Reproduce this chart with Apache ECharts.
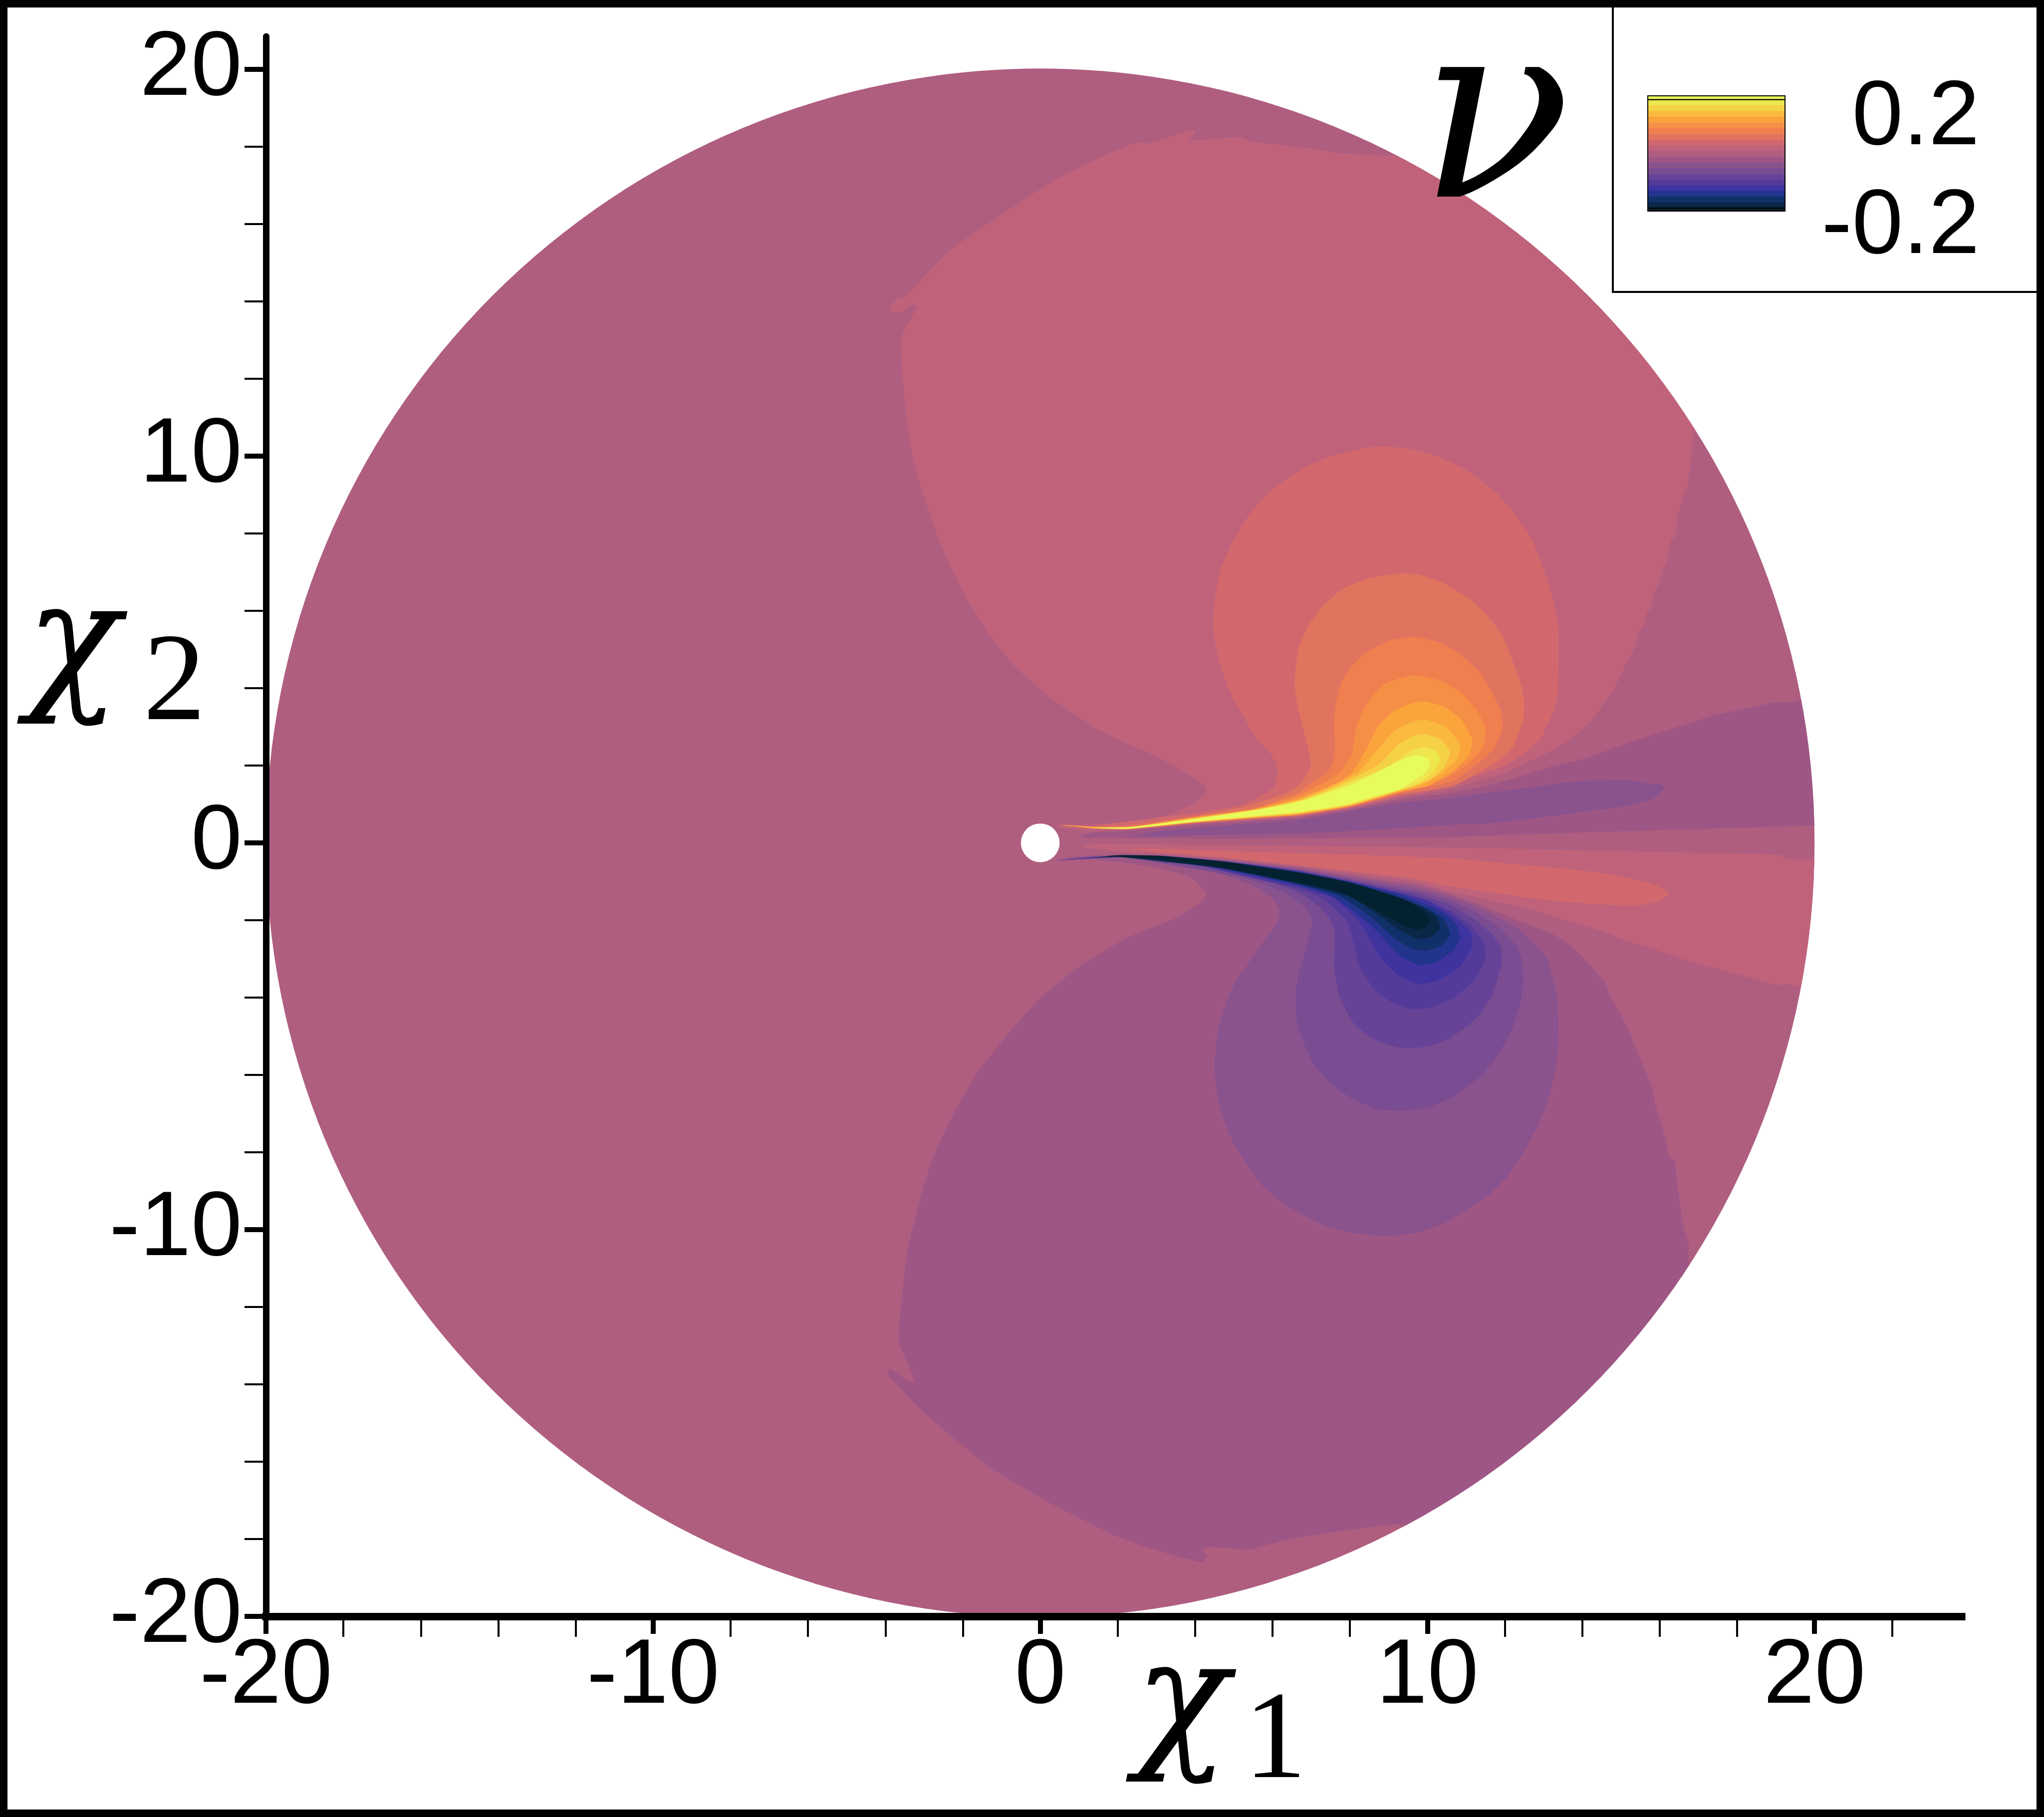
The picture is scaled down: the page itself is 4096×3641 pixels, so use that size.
<!DOCTYPE html>
<html>
<head>
<meta charset="utf-8">
<style>html,body{margin:0;padding:0;background:#fff}#chart{width:4096px;height:3641px}</style>
<script src="https://cdn.jsdelivr.net/npm/echarts@6/dist/echarts.min.js"></script>
</head>
<body>
<div id="chart"></div>
<script>
/* Filled contours of nu on the chi1/chi2 disc, levels painted outer to inner */

// colour of every contour level, 0 = top of the scale (0.2), 20 = bottom (-0.2)
const levelColors = ['#E8FB5D', '#EEE64D', '#F5D245', '#FAB93F', '#FCA43C', '#F68F46', '#F07F4F',
  '#E1745F', '#D2686D', '#C0637A', '#AF5E80', '#9E5785', '#8B538D', '#7A4C92', '#664396',
  '#543B9A', '#3F33A0', '#22348C', '#0F3068', '#0A2747', '#03212F'];

const majorTicks = [-20, -10, 0, 10, 20];
const minorTicksX = [-18, -16, -14, -12, -8, -6, -4, -2, 2, 4, 6, 8, 12, 14, 16, 18, 22];
const minorTicksY = [-18, -16, -14, -12, -8, -6, -4, -2, 2, 4, 6, 8, 12, 14, 16, 18];

// domain: [chi1, chi2, radius]
const domainDisc = [0, 0, 20];
const innerHole = [0, 0, 0.5];

// wedge and tongue of negative values above the axis
const wedge11 = [[1.04,0.18],[1.45,0.28],[2.23,0.31],[3.88,0.46],[5.53,0.57],[6.69,0.65],[7.98,0.86],[9.27,1.12],[10.56,1.29],[11.42,1.44],[12.27,1.68],[13.2,1.97],[14.12,2.2],[15.04,2.53],[15.63,2.73],[16.16,2.9],[16.88,3.13],[17.28,3.27],[18.07,3.45],[18.6,3.55],[19,3.64],[19.45,3.64],[19.68,3.72],[21,3.8],[21,0.42],[20.03,0.44],[17.15,0.36],[13.85,0.26],[11.75,0.19],[10.56,0.15],[7.18,0.12],[3.88,0.11],[1.08,0.13]];
const tongue12 = [[2.36,0.17],[3.06,0.3],[3.88,0.38],[5.53,0.51],[6.69,0.6],[7.98,0.82],[9.27,1.03],[10.56,1.16],[11.42,1.28],[12.8,1.45],[13.72,1.58],[14.64,1.62],[15.24,1.62],[15.83,1.51],[16.03,1.54],[16.16,1.36],[16.06,1.35],[15.86,1.15],[15.17,0.95],[14.38,0.85],[13.46,0.72],[11.75,0.52],[10.56,0.46],[8.84,0.35],[6.69,0.24],[5.53,0.22]];

// band and tongue of positive values below the axis
const band9 = [[1.04,-0.09],[1.49,-0.03],[5.53,-0.07],[10.56,-0.12],[12.54,-0.16],[15.17,-0.22],[17.15,-0.26],[19.12,-0.31],[19.26,-0.42],[20.03,-0.43],[21,-0.45],[21,-3.9],[19.68,-3.76],[19.39,-3.66],[18.99,-3.67],[18.4,-3.5],[18,-3.4],[17.54,-3.27],[16.88,-3.1],[15.83,-2.74],[15.17,-2.54],[14.51,-2.28],[13.85,-2.08],[13.2,-1.88],[12.54,-1.68],[11.88,-1.55],[11.22,-1.39],[10.56,-1.26],[9.7,-1.01],[7.98,-0.775],[6.69,-0.61],[4.7,-0.4],[3.06,-0.28],[2.23,-0.24],[1.41,-0.15]];
const tongue8 = [[2.36,-0.15],[5.53,-0.235],[8.82,-0.33],[10.56,-0.4],[12.8,-0.6],[13.85,-0.7],[14.64,-0.8],[15.43,-0.96],[15.83,-1.06],[16.23,-1.29],[16.03,-1.49],[15.57,-1.6],[14.64,-1.6],[13.2,-1.49],[11.88,-1.32],[10.56,-1.12],[9.7,-0.925],[8.41,-0.775],[6.69,-0.58],[4.7,-0.375],[3.06,-0.235]];

// positive lobe, outer to inner
const warm9 = [[0.42,0.46],[1.08,0.47],[2.23,0.51],[3.39,0.75],[4.05,1.08],[4.29,1.33],[4.22,1.5],[3.88,1.74],[3.06,2.2],[2.23,2.57],[1.41,2.98],[0.29,3.73],[-0.7,4.6],[-1.39,5.49],[-1.88,6.28],[-2.38,7.27],[-2.77,8.26],[-3.07,9.14],[-3.31,10.03],[-3.46,11.02],[-3.56,12.11],[-3.59,12.99],[-3.51,13.29],[-3.17,13.86],[-3.31,13.91],[-3.61,13.73],[-3.92,13.76],[-3.68,14.08],[-3.51,14.1],[-2.97,14.67],[-2.28,15.36],[-0.99,16.25],[0.39,17.14],[1.57,17.73],[2.51,18.11],[2.76,18.08],[3.89,18.42],[4.02,18.37],[3.82,18.16],[5.18,18.25],[5.42,18.13],[6.9,17.96],[7.79,17.83],[9.12,17.78],[11,18.5],[15,16],[20,12],[16.93,10.65],[16.86,10.48],[16.78,9.66],[16.71,9.19],[16.63,9.04],[16.47,8.5],[16.39,7.92],[16.28,7.79],[16.17,7.21],[16.09,7.1],[15.98,6.7],[15.85,6.44],[15.77,6.03],[15.66,5.94],[15.57,5.58],[15.46,5.47],[15.38,5.1],[15.1,4.57],[14.78,3.91],[14.25,3.19],[13.99,2.93],[13.52,2.56],[13.2,2.37],[12.54,2.07],[12,1.8],[11.22,1.58],[10.56,1.38],[9.27,1.17],[7.98,0.88],[6.69,0.68],[5.53,0.595],[3.88,0.48],[2.23,0.33],[1.41,0.3],[0.42,0.42]];
const warm8 = [[1.41,0.44],[2.23,0.55],[3.88,0.75],[5.2,0.98],[5.55,1.15],[6.01,1.41],[6.13,1.87],[5.98,2.27],[5.62,2.66],[5.16,3.42],[4.86,3.98],[4.6,4.77],[4.49,5.36],[4.47,5.82],[4.53,6.42],[4.66,7.07],[4.96,7.77],[5.22,8.23],[5.55,8.69],[6.01,9.15],[6.41,9.44],[6.87,9.74],[7.53,10],[8.05,10.13],[8.71,10.25],[9.57,10.19],[10.23,10],[10.88,9.71],[11.28,9.44],[11.81,9.02],[12.27,8.49],[12.66,7.93],[12.93,7.27],[13.16,6.61],[13.29,6.09],[13.39,5.49],[13.39,4.51],[13.35,3.72],[13.25,3.39],[12.92,2.7],[12.53,2.35],[12,2],[11.2,1.72],[10.56,1.48],[10.03,1.33],[9.27,1.21],[7.98,0.905],[6.69,0.705],[5.53,0.62],[3.88,0.5],[2.23,0.345]];
const warm7 = [[1.58,0.4],[2.23,0.45],[3.88,0.68],[5.2,0.92],[5.75,1.08],[6.34,1.28],[6.74,1.54],[6.99,2],[6.93,2.4],[6.8,2.93],[6.67,3.45],[6.57,4.04],[6.6,4.57],[6.7,5.1],[6.93,5.63],[7.33,6.15],[7.79,6.55],[8.51,6.84],[9.3,6.97],[9.77,6.94],[10.42,6.71],[11.02,6.35],[11.48,5.95],[11.94,5.36],[12.2,4.7],[12.43,4.04],[12.5,3.58],[12.46,3.12],[12.2,2.47],[11.74,2.07],[10.69,1.48],[9.27,1.25],[7.98,0.92],[6.69,0.715],[5.53,0.63],[3.88,0.505],[2.23,0.35]];
const warm6 = [[0.5,0.47],[1.41,0.42],[2.4,0.43],[3.88,0.66],[5.53,0.89],[6.69,1.31],[7,1.54],[7.4,1.81],[7.53,2],[7.61,2.4],[7.59,3.12],[7.63,3.58],[7.79,4.18],[7.99,4.5],[8.38,4.9],[9.04,5.23],[9.7,5.33],[10.36,5.16],[10.82,4.9],[11.35,4.41],[11.67,3.91],[11.9,3.39],[11.94,2.99],[11.74,2.47],[11.41,2.14],[10.69,1.61],[9.27,1.28],[7.98,0.93],[6.69,0.72],[5.53,0.635],[3.88,0.51],[2.23,0.355],[1.41,0.37]];
const warm5 = [[0.5,0.465],[1.41,0.41],[2.4,0.42],[3.88,0.65],[5.53,0.88],[6.69,1.23],[7.4,1.6],[7.72,1.81],[8.05,2.27],[8.15,2.93],[8.32,3.39],[8.65,3.88],[8.91,4.11],[9.37,4.28],[9.7,4.34],[10.36,4.18],[10.88,3.88],[11.28,3.42],[11.51,2.93],[11.44,2.47],[11.08,2.07],[10.55,1.71],[10.13,1.55],[9.27,1.3],[7.98,0.94],[6.69,0.73],[5.53,0.64],[3.88,0.515],[2.23,0.36],[1.41,0.375]];
const warm4 = [[0.55,0.46],[1.41,0.405],[2.4,0.415],[3.88,0.64],[5.53,0.87],[6.69,1.16],[7.66,1.54],[8.05,1.81],[8.45,2.47],[8.71,2.99],[9.11,3.39],[9.5,3.58],[9.9,3.66],[10.42,3.52],[10.88,3.19],[11.16,2.66],[11.08,2.27],[10.69,1.87],[10.03,1.48],[9.27,1.32],[7.98,0.95],[6.69,0.74],[5.53,0.65],[3.88,0.52],[2.23,0.36],[1.41,0.38]];
const warm3 = [[0.6,0.455],[1.41,0.4],[2.4,0.41],[3.88,0.63],[5.53,0.86],[6.69,1.12],[7.12,1.29],[8.19,1.81],[8.71,2.4],[9.11,2.86],[9.5,3.09],[9.93,3.19],[10.49,2.99],[10.85,2.53],[10.75,2.14],[10.29,1.74],[9.7,1.45],[9.27,1.335],[7.98,0.96],[6.69,0.75],[5.53,0.66],[3.88,0.525],[2.23,0.362],[1.41,0.385]];
const warm2 = [[0.7,0.45],[1.41,0.4],[2.4,0.405],[3.88,0.62],[5.53,0.85],[6.69,1.1],[7.55,1.42],[8.71,2],[9.24,2.53],[9.63,2.76],[9.96,2.81],[10.36,2.66],[10.59,2.33],[10.42,1.94],[10.03,1.61],[9.27,1.35],[7.98,0.97],[6.69,0.77],[5.53,0.67],[3.88,0.53],[2.23,0.363],[1.41,0.39]];
const warm1 = [[1,0.42],[1.41,0.398],[2.4,0.4],[3.88,0.61],[5.53,0.84],[6.69,1.08],[7.98,1.55],[9.04,2],[9.57,2.37],[9.9,2.47],[10.23,2.37],[10.33,2.14],[10.16,1.84],[9.77,1.54],[9.27,1.365],[7.98,0.99],[6.69,0.78],[5.53,0.68],[3.88,0.535],[2.23,0.364]];
const warm0 = [[1.25,0.38],[2.23,0.4],[3.88,0.6],[4.7,0.72],[5.53,0.84],[6.1,0.94],[6.69,1.06],[7.3,1.25],[7.98,1.48],[8.5,1.72],[9.17,2.07],[9.7,2.27],[10,2.2],[10.06,2],[9.9,1.77],[9.5,1.51],[9.27,1.375],[8.5,1.17],[7.98,1.01],[7.3,0.89],[6.69,0.8],[6.1,0.75],[5.53,0.695],[3.88,0.54],[2.23,0.365]];

// negative lobe, outer to inner
const cool11 = [[0.51,-0.4],[1.41,-0.44],[2.23,-0.52],[3.06,-0.65],[3.88,-0.89],[4.29,-1.31],[4.13,-1.55],[3.47,-1.96],[2.23,-2.46],[1,-3.2],[0,-4.01],[-0.8,-4.9],[-1.59,-5.89],[-2.28,-7.07],[-2.82,-8.26],[-3.16,-9.44],[-3.41,-10.43],[-3.56,-11.61],[-3.66,-12.9],[-3.46,-13.39],[-3.24,-13.93],[-3.46,-13.88],[-3.88,-13.59],[-3.95,-13.74],[-3.07,-14.67],[-2.38,-15.27],[-1.29,-16.16],[0.29,-17.09],[1.97,-17.93],[2.96,-18.28],[4.19,-18.6],[4.32,-18.45],[4.19,-18.28],[4.34,-18.21],[5.42,-18.26],[6.41,-18.01],[7.89,-17.78],[9.42,-17.64],[11,-19],[16,-16],[20,-12],[16.78,-10.88],[16.75,-10.38],[16.58,-9.74],[16.48,-8.95],[16.39,-8.21],[16.26,-8.11],[16.09,-7.42],[15.92,-6.88],[15.79,-6.28],[15.61,-5.84],[15.4,-5.35],[15.23,-4.9],[15.01,-4.46],[14.75,-4.01],[14.58,-3.6],[14.18,-3.13],[13.72,-2.67],[13.2,-2.34],[12.54,-2.08],[11.88,-1.82],[11.22,-1.55],[10.56,-1.32],[9.7,-1.08],[8.84,-0.97],[7.98,-0.84],[6.69,-0.637],[4.7,-0.43],[3.06,-0.32],[2.07,-0.3],[1.41,-0.32]];
const cool12 = [[2.23,-0.4],[3.06,-0.5],[4.7,-0.81],[5.53,-1.14],[6.02,-1.47],[6.18,-1.81],[6.08,-2.1],[5.68,-2.66],[5.35,-3.16],[5.06,-3.55],[4.8,-4.14],[4.6,-4.8],[4.53,-5.33],[4.5,-5.86],[4.56,-6.45],[4.7,-7.04],[5.03,-7.86],[5.42,-8.42],[5.75,-8.88],[6.34,-9.35],[6.87,-9.67],[7.46,-9.94],[8.05,-10.08],[8.98,-10.17],[9.77,-10.07],[10.42,-9.84],[11.02,-9.48],[11.54,-9.15],[12.07,-8.62],[12.47,-8.03],[12.86,-7.3],[13.12,-6.65],[13.29,-5.99],[13.35,-5.53],[13.39,-5.2],[13.37,-4.08],[13.25,-3.55],[13.09,-2.96],[12.66,-2.5],[12.34,-2.21],[11.75,-1.88],[11.22,-1.62],[10.56,-1.39],[9.7,-1.16],[8.41,-0.95],[6.69,-0.68],[4.7,-0.45],[3.06,-0.33]];
const cool13 = [[2.65,-0.44],[3.88,-0.65],[5.53,-0.98],[6.35,-1.31],[6.8,-1.64],[7,-1.91],[7.02,-2.1],[6.87,-2.7],[6.67,-3.42],[6.59,-4.01],[6.64,-4.67],[6.8,-5.16],[7.03,-5.66],[7.33,-6.05],[7.79,-6.45],[8.25,-6.71],[8.71,-6.88],[9.24,-6.93],[10.03,-6.84],[10.62,-6.58],[11.35,-6.05],[11.74,-5.59],[12.14,-4.93],[12.4,-4.14],[12.48,-3.62],[12.43,-2.96],[12.27,-2.63],[11.87,-2.2],[11.21,-1.77],[10.56,-1.48],[9.7,-1.24],[8.41,-1.01],[6.69,-0.7],[4.7,-0.465],[3.06,-0.34]];
const cool14 = [[2.65,-0.4],[3.88,-0.565],[5.53,-0.85],[6.69,-1.29],[7.2,-1.64],[7.49,-1.97],[7.61,-2.3],[7.59,-3.22],[7.72,-3.95],[8.05,-4.61],[8.58,-5.07],[9.11,-5.26],[9.5,-5.32],[10.03,-5.26],[10.56,-5.07],[11.02,-4.74],[11.35,-4.44],[11.67,-3.95],[11.91,-3.16],[11.91,-2.7],[11.67,-2.37],[11.21,-1.97],[10.56,-1.59],[9.7,-1.31],[8.41,-1.05],[6.69,-0.715],[4.7,-0.47],[3.06,-0.345]];
const cool15 = [[0.4,-0.46],[1.4,-0.36],[3.06,-0.33],[4.7,-0.475],[6.69,-0.73],[8.41,-1.1],[9.7,-1.38],[10.62,-1.77],[11.15,-2.17],[11.48,-2.63],[11.49,-3.03],[11.21,-3.55],[10.69,-4.01],[10.16,-4.24],[9.63,-4.31],[9.11,-4.14],[8.65,-3.82],[8.25,-3.22],[8.12,-2.7],[7.92,-2.04],[7.33,-1.46],[6.69,-1.205],[4.7,-0.73],[3.06,-0.365],[1.4,-0.4]];
const cool16 = [[3.3,-0.37],[4.7,-0.48],[6.69,-0.745],[7.98,-0.99],[9.27,-1.29],[10.04,-1.51],[10.69,-1.91],[11.12,-2.3],[11.15,-2.7],[10.82,-3.22],[10.29,-3.55],[9.77,-3.65],[9.24,-3.42],[8.78,-2.96],[8.45,-2.37],[8.19,-1.98],[7.55,-1.42],[6.69,-1.14],[4.7,-0.69]];
const cool17 = [[3,-0.35],[4.7,-0.48],[6.69,-0.753],[7.98,-1.01],[9.27,-1.33],[9.96,-1.59],[10.36,-1.77],[10.75,-2.1],[10.85,-2.47],[10.69,-2.76],[10.23,-3.09],[9.77,-3.16],[9.24,-2.89],[8.78,-2.37],[8.41,-2.02],[7.55,-1.38],[6.69,-1.1],[4.7,-0.67]];
const cool18 = [[2.5,-0.33],[4.7,-0.48],[6.69,-0.762],[7.98,-1.02],[9.06,-1.33],[10.03,-1.71],[10.42,-1.97],[10.59,-2.37],[10.36,-2.66],[9.96,-2.79],[9.57,-2.73],[9.11,-2.43],[8.62,-1.98],[7.76,-1.38],[6.69,-1.076],[4.7,-0.66]];
const cool19 = [[1.8,-0.33],[4.7,-0.48],[6.69,-0.77],[7.98,-1.02],[9.27,-1.42],[9.83,-1.64],[10.23,-1.91],[10.33,-2.2],[10.1,-2.43],[9.77,-2.49],[9.3,-2.27],[8.84,-1.94],[7.98,-1.38],[6.69,-1.054],[4.7,-0.655]];
const cool20 = [[1.41,-0.375],[2.07,-0.317],[3.06,-0.334],[4.7,-0.48],[6.69,-0.775],[7.98,-1.03],[9.37,-1.45],[9.86,-1.74],[10.06,-1.97],[10.03,-2.1],[9.77,-2.24],[9.47,-2.17],[8.62,-1.72],[7.98,-1.38],[7.33,-1.16],[6.69,-1.03],[4.7,-0.65],[3.06,-0.42],[2.07,-0.36]];

// paint order: [level, outline]
const regions = [
  [11, wedge11], [12, tongue12], [9, band9], [8, tongue8],
  [9, warm9], [8, warm8], [7, warm7], [6, warm6], [5, warm5], [4, warm4], [3, warm3], [2, warm2], [1, warm1], [0, warm0],
  [11, cool11], [12, cool12], [13, cool13], [14, cool14], [15, cool15], [16, cool16], [17, cool17], [18, cool18], [19, cool19], [20, cool20]
];

const chart = echarts.init(document.getElementById('chart'), null, { renderer: 'canvas' });

const fontBig = 184;
const labelStyle = { color: '#000', fontFamily: 'Liberation Sans', fontSize: fontBig };

function renderDisc(disc, color) {
  return (params, api) => {
    const c = api.coord([disc[0], disc[1]]);
    return { type: 'circle', shape: { cx: c[0], cy: c[1], r: api.size([disc[2], 0])[0] }, style: { fill: color } };
  };
}

function renderRegion(params, api) {
  const [level, outline] = regions[params.dataIndex];
  const c = api.coord([domainDisc[0], domainDisc[1]]);
  return {
    type: 'polygon',
    shape: { points: outline.map(p => api.coord(p)), smooth: 0.15 },
    style: { fill: levelColors[level] },
    clipPath: { type: 'circle', shape: { cx: c[0], cy: c[1], r: api.size([domainDisc[2], 0])[0] } }
  };
}

function xAxisOf(ticks, width, len, labels) {
  return {
    type: 'value', min: -20, max: 23.8, position: 'bottom', splitLine: { show: false }, z: 10,
    axisLine: { show: labels, onZero: false, lineStyle: { color: '#000', width: 15, cap: 'square' } },
    axisTick: { show: true, customValues: ticks, length: len, lineStyle: { color: '#000', width: width } },
    axisLabel: labels ? { ...labelStyle, customValues: majorTicks, margin: 30 } : { show: false }
  };
}

function yAxisOf(ticks, width, len, labels) {
  return {
    type: 'value', min: -20, max: 20.85, position: 'left', splitLine: { show: false }, z: 10,
    axisLine: { show: labels, onZero: false, lineStyle: { color: '#000', width: 13 } },
    axisTick: { show: true, customValues: ticks, length: len, lineStyle: { color: '#000', width: width } },
    axisLabel: labels ? { ...labelStyle, customValues: majorTicks, margin: 48, padding: [30, 0, 0, 0] } : { show: false }
  };
}

// colour bar + frame + the symbol labels
function legendGraphics() {
  const barX = 3302, barW = 275, barTop = 192, bandH = 11.44;
  const items = [
    { type: 'rect', shape: { x: 3232, y: 8, width: 860, height: 577 }, style: { fill: '#fff', stroke: '#000', lineWidth: 4 }, z: 20 }
  ];
  const startY = barTop + 7.6;
  levelColors.forEach((color, i) => {
    let y = startY + (i - 1) * bandH, h = bandH + 0.5;
    if (i === 0) { y = barTop; h = 7.6; }
    if (i === 20) { y = startY + 19 * bandH; h = 423 - y; }
    items.push({ type: 'rect', shape: { x: barX, y, width: barW, height: h }, style: { fill: color }, z: 21 });
  });
  [barTop + 7.6, startY + 19 * bandH].forEach(y => {
    items.push({ type: 'rect', shape: { x: barX, y: y - 1.2, width: barW, height: 2.4 }, style: { fill: '#000' }, z: 22 });
  });
  items.push({ type: 'rect', shape: { x: barX, y: barTop, width: barW, height: 423 - barTop }, style: { fill: 'none', stroke: '#000', lineWidth: 2 }, z: 22 });
  const txt = (text, x, y, size, family, extra) => ({
    type: 'text', x, y, z: 23,
    style: { text, fill: '#000', font: `${extra || ''} ${size}px "${family}"`, textAlign: 'right', textVerticalAlign: 'middle' }
  });
  items.push(txt('0.2', 3967, 238, fontBig, 'Liberation Sans'));
  items.push(txt('-0.2', 3967, 456, fontBig, 'Liberation Sans'));
  items.push(txt('ν', 3148, 264, 500, 'DejaVu Serif', 'italic'));
  items.push(txt('χ', 2462, 3425, 310, 'DejaVu Serif', 'italic'));
  items.push(txt('1', 2618, 3495, 250, 'Liberation Serif'));
  items.push(txt('χ', 240, 1305, 310, 'DejaVu Serif', 'italic'));
  items.push(txt('2', 412, 1375, 250, 'Liberation Serif'));
  // page frame
  items.push({ type: 'rect', shape: { x: 7.5, y: 7.5, width: 4081, height: 3626 }, style: { fill: 'none', stroke: '#000', lineWidth: 15 }, z: 30 });
  return items;
}

chart.setOption({
  animation: false,
  backgroundColor: '#fff',
  grid: { left: 533, top: 73, width: 3398, height: 3166 },
  xAxis: [xAxisOf(majorTicks, 10, 35, true), xAxisOf(minorTicksX, 4, 41, false)],
  yAxis: [yAxisOf(majorTicks, 10, 43, true), yAxisOf(minorTicksY, 4, 43, false)],
  series: [
    { type: 'custom', coordinateSystem: 'cartesian2d', silent: true, z: 2, renderItem: renderDisc(domainDisc, levelColors[10]), data: [domainDisc] },
    { type: 'custom', coordinateSystem: 'cartesian2d', silent: true, z: 3, renderItem: renderRegion, data: regions.map((r, i) => [i]) },
    { type: 'custom', coordinateSystem: 'cartesian2d', silent: true, z: 4, renderItem: renderDisc(innerHole, '#fff'), data: [innerHole] }
  ],
  graphic: legendGraphics()
});
</script>
</body>
</html>
